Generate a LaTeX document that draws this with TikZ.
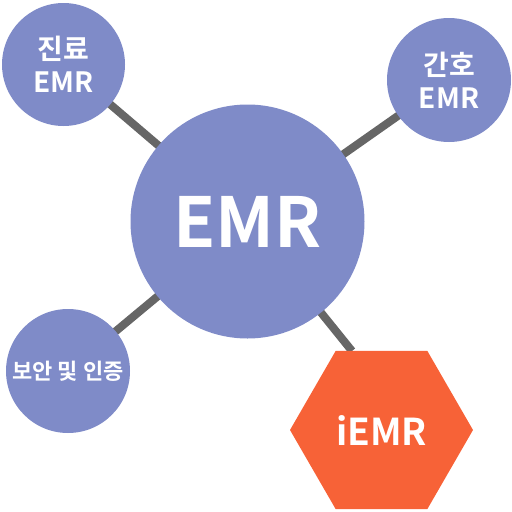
\documentclass[tikz,border=0pt]{standalone}
\usepackage{fontspec}
\setmainfont{Noto Sans CJK KR}[BoldFont={Noto Sans CJK KR Bold}]
\usetikzlibrary{shapes.geometric}
\definecolor{circ}{HTML}{7F8BC8}
\definecolor{hexc}{HTML}{F76237}
\definecolor{link}{HTML}{666666}
\tikzset{
  bubble/.style={circle, fill=circ, draw=none, inner sep=0pt, outer sep=0pt, text=white, font=\bfseries, align=center},
  hexnode/.style={regular polygon, regular polygon sides=6, fill=hexc, draw=none, inner sep=0pt, outer sep=0pt, text=white, font=\bfseries},
  linkline/.style={draw=link, line width=8pt}
}
\begin{document}
\begin{tikzpicture}[x=1pt,y=-1pt]
\useasboundingbox (0,0) rectangle (512,512);
% connectors drawn first (behind)
\coordinate (mc) at (247.5,221.5);
\coordinate (tlc) at (63.5,64.5);
\coordinate (trc) at (449,80);
\coordinate (blc) at (68,371);
\coordinate (hexin) at (352,351);
\draw[linkline] (mc) -- (tlc);
\draw[linkline] (mc) -- (trc);
\draw[linkline] (mc) -- (blc);
\draw[linkline] (mc) -- (hexin);
\node[bubble, minimum size=234pt, font=\fontsize{69}{69}\selectfont\bfseries] (main) at (mc) {EMR};
\node[bubble, minimum size=123pt, font=\fontsize{28}{33}\selectfont\bfseries] (tl) at (tlc) {진료\\EMR};
\node[bubble, minimum size=124pt, font=\fontsize{28}{33}\selectfont\bfseries] (tr) at (trc) {간호\\EMR};
\node[bubble, minimum size=124pt, font=\fontsize{22}{24}\selectfont\bfseries] (bl) at (blc) {보안 및 인증};
\node[hexnode, minimum size=183pt, font=\fontsize{37}{37}\selectfont\bfseries] (hex) at (381.5,430) {iEMR};
\end{tikzpicture}
\end{document}
